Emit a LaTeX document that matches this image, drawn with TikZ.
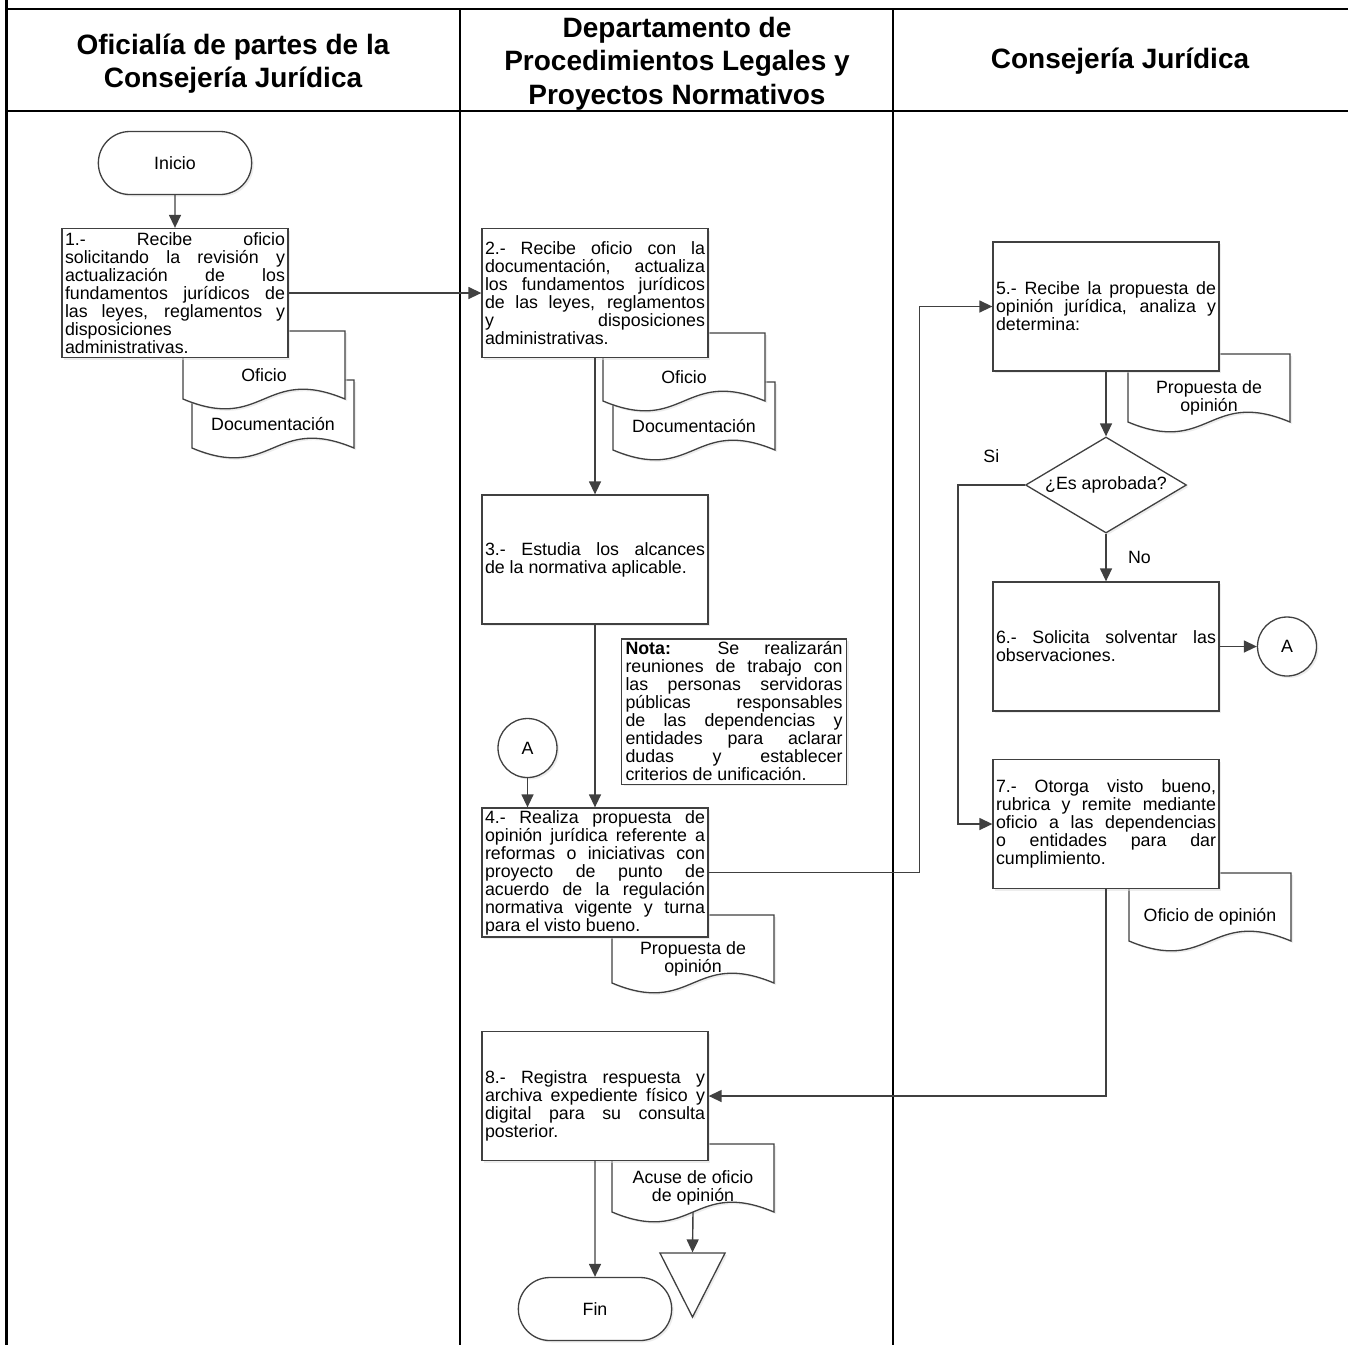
\documentclass[tikz,border=0pt]{standalone}
\usepackage{fontspec}
\setmainfont{Liberation Sans}
\newfontfamily\headfont{Liberation Sans}
\usetikzlibrary{shapes.geometric,shapes.misc,arrows.meta,shadows}

\definecolor{lnc}{HTML}{404040}
\tolerance=10000
\hyphenpenalty=10000
\exhyphenpenalty=10000

\newcommand{\bodytext}{\fontsize{17.8}{18}\selectfont}
\newcommand{\headtext}{\headfont\bfseries\fontsize{28}{33.5}\selectfont}

% documento con borde inferior ondulado
\makeatletter
\pgfdeclareshape{docu}{%
  \inheritsavedanchors[from=rectangle]
  \inheritanchorborder[from=rectangle]
  \inheritanchor[from=rectangle]{center}
  \inheritanchor[from=rectangle]{north}
  \inheritanchor[from=rectangle]{south}
  \inheritanchor[from=rectangle]{east}
  \inheritanchor[from=rectangle]{west}
  \inheritanchor[from=rectangle]{north east}
  \inheritanchor[from=rectangle]{north west}
  \inheritanchor[from=rectangle]{south east}
  \inheritanchor[from=rectangle]{south west}
  \backgroundpath{%
    \southwest \pgf@xa=\pgf@x \pgf@ya=\pgf@y
    \northeast \pgf@xb=\pgf@x \pgf@yb=\pgf@y
    \advance\pgf@yb by 20pt
    \pgf@xc=.5\pgf@xa \advance\pgf@xc by .5\pgf@xb
    \pgf@yc=\pgf@ya \advance\pgf@yc by 34pt
    \pgfutil@tempdima=\pgf@ya \advance\pgfutil@tempdima by -34pt
    \pgfpathmoveto{\pgfqpoint{\pgf@xa}{\pgf@yb}}%
    \pgfpathlineto{\pgfqpoint{\pgf@xb}{\pgf@yb}}%
    \pgfpathlineto{\pgfqpoint{\pgf@xb}{\pgf@ya}}%
    \pgfpathcurveto{\pgfqpoint{\pgf@xc}{\pgf@yc}}{\pgfqpoint{\pgf@xc}{\pgfutil@tempdima}}{\pgfqpoint{\pgf@xa}{\pgf@ya}}%
    \pgfpathclose
  }%
}
\makeatother

\tikzset{
  basic/.style={draw=lnc, line width=1.3pt, fill=white, font=\bodytext,
    drop shadow={shadow xshift=2pt, shadow yshift=-2pt, fill=black!14}},
  proc/.style={basic, rectangle, minimum width=226pt, minimum height=129pt,
    text width=220pt, inner xsep=3pt, inner ysep=2pt, align=justify},
  term/.style={basic, rounded rectangle, minimum width=160pt, minimum height=63pt},
  docbox/.style={basic, docu, minimum width=162pt, minimum height=48pt,
    inner sep=2pt, outer sep=0pt, align=center},
  decis/.style={basic, diamond, aspect=1.68, minimum width=161pt,
    minimum height=96pt, inner sep=1pt},
  conn/.style={basic, circle, minimum size=59pt, inner sep=0pt},
  archv/.style={basic, isosceles triangle, isosceles triangle stretches,
    shape border rotate=-90, minimum width=65pt, minimum height=64pt, inner sep=0pt},
  notebox/.style={basic, rectangle, text width=217pt, inner xsep=4pt,
    inner ysep=3pt, align=justify},
  arr/.style={draw=lnc, line width=1.4pt, -{Triangle[length=13pt,width=12pt]}},
  lbl/.style={font=\bodytext},
  lane/.style={draw=black, line width=2.2pt},
  head/.style={font=\headtext, align=center}
}

\begin{document}
\begin{tikzpicture}[x=1pt,y=-1pt]
\useasboundingbox (0,0) rectangle (1348,1345);
% carriles
\draw[lane, line width=3pt] (6,0) -- (6,1345);
\draw[lane] (6,9) -- (1348,9);
\draw[lane] (6,111) -- (1348,111);
\draw[lane] (460,9) -- (460,1345);
\draw[lane] (893,9) -- (893,1345);
\node[head] (h1) at (233,63.5) {Oficialía de partes de la\\Consejería Jurídica};
\node[head] (h2) at (677,63.5) {Departamento de\\Procedimientos Legales y\\Proyectos Normativos};
\node[head] (h3) at (1120,61) {Consejería Jurídica};

% oficialia de partes
\node[term] (ini) at (175,163) {Inicio};
\node[docbox] (doc1b) at (273,424) {Documentación};
\node[docbox] (doc1a) at (264,375) {Oficio};
\node[proc] (s1) at (175,293) {1.- Recibe oficio\linebreak solicitando la revisión y\linebreak actualización de los\linebreak fundamentos jurídicos de\linebreak las leyes, reglamentos y\linebreak disposiciones\linebreak administrativas.};

% departamento
\node[docbox] (doc2b) at (694,426) {Documentación};
\node[docbox] (doc2a) at (684,377) {Oficio};
\node[proc] (s2) at (595,293) {2.- Recibe oficio con la\linebreak documentación, actualiza\linebreak los fundamentos jurídicos\linebreak de las leyes, reglamentos\linebreak y disposiciones\linebreak administrativas.\par\vspace*{20pt}};
\node[proc] (s3) at (595,559.5) {3.- Estudia los alcances\linebreak de la normativa aplicable.};
\node[notebox] (nota) at (734,711.5) {\textbf{Nota:} Se realizarán\linebreak reuniones de trabajo con\linebreak las personas servidoras\linebreak públicas responsables\linebreak de las dependencias y\linebreak entidades para aclarar\linebreak dudas y establecer\linebreak criterios de unificación.};
\node[conn] (ca2) at (527.5,748) {A};
\node[docbox] (doc4) at (693,959) {Propuesta de\\opinión};
\node[proc] (s4) at (595,872.5) {4.- Realiza propuesta de\linebreak opinión jurídica referente a\linebreak reformas o iniciativas con\linebreak proyecto de punto de\linebreak acuerdo de la regulación\linebreak normativa vigente y turna\linebreak para el visto bueno.};
\node[docbox] (doc8) at (693,1188) {Acuse de oficio\\de opinión};
\node[proc] (s8) at (595,1096) {\rule{0pt}{33pt}8.- Registra respuesta y\linebreak archiva expediente físico y\linebreak digital para su consulta\linebreak posterior.};
\node[term] (fin) at (595,1309) {Fin};
\node[archv] (arch) at (692.5,1273) {};

% consejeria
\node[docbox] (doc5) at (1209,398) {Propuesta de\\opinión};
\node[proc] (s5) at (1106,306.5) {5.- Recibe la propuesta de\linebreak opinión jurídica, analiza y\linebreak determina:};
\node[decis] (dec) at (1106,485) {¿Es aprobada?};
\node[proc] (s6) at (1106,646.5) {6.- Solicita solventar las\linebreak observaciones.};
\node[conn] (ca3) at (1287,646.5) {A};
\node[docbox] (doc7) at (1210,917) {Oficio de opinión};
\node[proc] (s7) at (1106,824) {7.- Otorga visto bueno,\linebreak rubrica y remite mediante\linebreak oficio a las dependencias\linebreak o entidades para dar\linebreak cumplimiento.};

% conectores
\draw[arr] (ini) -- (s1);
\draw[arr] (s1) -- (s2);
\draw[arr] (s2) -- (s3);
\draw[arr] (s3) -- (s4);
\draw[arr] (ca2) -- (ca2 |- s4.north);
\draw[arr] (s4.east) -- ++(211,0) |- (s5.west);
\draw[arr] (s5) -- (dec);
\draw[arr] (dec) -- node[lbl, right=18pt] (no) {No} (s6);
\draw[arr] (dec.west) -- node[lbl, above=18pt] (si) {Si} ++(-67,0) |- (s7.west);
\draw[arr] (s6) -- (ca3);
\draw[arr] (s7.south) |- (s8.east);
\draw[arr] (s8) -- (fin);
\draw[arr] (doc8.south) -- (arch.north);
\end{tikzpicture}
\end{document}
